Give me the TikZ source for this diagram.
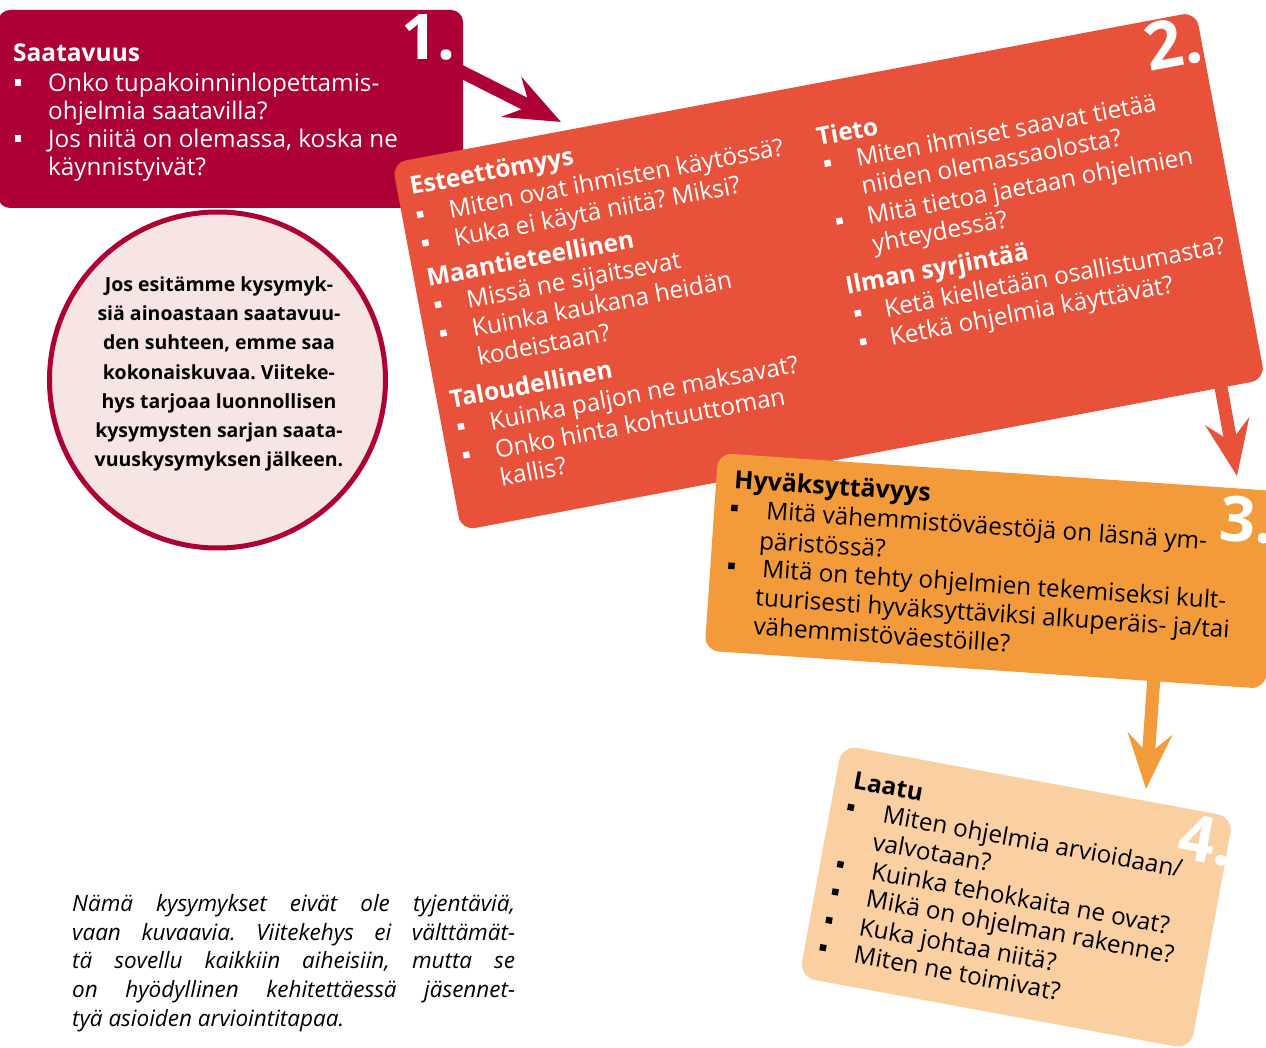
\documentclass[tikz,border=0pt]{standalone}
\usepackage{fontspec}
\setmainfont{Open Sans}
\usetikzlibrary{arrows.meta}
\definecolor{cA}{HTML}{AD0034}
\definecolor{cB}{HTML}{E8523B}
\definecolor{cC}{HTML}{F39A3B}
\definecolor{cD}{HTML}{FAD0A3}
\definecolor{cE}{HTML}{F7E5E4}
\newcommand\bsq[2]{\fill (#1-3.2,#2-12.5) rectangle ++(6.4,6.4);}
\frenchspacing
\begin{document}
\begin{tikzpicture}[x=1pt,y=-1pt,
  tl/.style={anchor=base west, inner sep=0pt, font=\fontsize{24.3}{28}\selectfont},
  hd/.style={anchor=base west, inner sep=0pt, font=\fontsize{24.5}{28}\selectfont\bfseries},
  num/.style={inner sep=0pt, text=white, font=\fontsize{63}{63}\selectfont\bfseries},
  boxshape/.style={rectangle, inner sep=0pt, outer sep=0pt, rounded corners=12pt},
  conn/.style={line width=13pt, -{Stealth[length=55pt,width=44pt,inset=20pt]}},
]
\useasboundingbox (0,0) rectangle (1266,1048);

% circle
\node[circle, draw=cA, line width=5pt, fill=cE, minimum size=336pt, inner sep=0pt] (circ) at (217.5,380) {};
\node[align=center, inner sep=0pt, font=\fontsize{19.5}{29.3}\selectfont\bfseries] (circt) at (219,374)
 {Jos esitämme kysymyk-\\siä ainoastaan saatavuu-\\den suhteen, emme saa\\kokonaiskuvaa. Viiteke-\\hys tarjoaa luonnollisen\\kysymysten sarjan saata-\\vuuskysymyksen jälkeen.};

% box 1
\node[boxshape, fill=cA, minimum width=465pt, minimum height=198pt, anchor=north west] (b1) at (-2,10) {};
\begin{scope}[every node/.append style={text=white}]
\node[hd] (b1h) at (13,62) {Saatavuus};
\node[tl] (b1a) at (48,92) {Onko tupakoinninlopettamis-};
\node[tl] (b1b) at (48,120) {ohjelmia saatavilla?};
\node[tl] (b1c) at (48,148) {Jos niitä on olemassa, koska ne};
\node[tl] (b1d) at (48,176) {käynnistyivät?};
\node[num, anchor=base east] (n1) at (456,60) {1.};
\end{scope}
\begin{scope}[white]
\bsq{18}{92}\bsq{18}{148}
\end{scope}

% arrow 1 -> 2
\coordinate (a1s) at ([shift={(-5,60)}]b1.north east);
\coordinate (a1e) at (561,122);
\draw[conn, cA] (a1s) -- (a1e);

% box 2
\node[boxshape, fill=cB, minimum width=818pt, minimum height=374pt, rotate=10.65, rounded corners=14pt] (b2) at (828.6,271.2) {};
\begin{scope}[shift={(b2.north west)}, rotate=10.65, every node/.append style={transform shape, text=white}]
\node[hd] (e0) at (13,35) {Esteettömyys};
\node[tl] (e1) at (47,65) {Miten ovat ihmisten käytössä?};
\node[tl] (e2) at (47,94) {Kuka ei käytä niitä? Miksi?};
\node[hd] (m0) at (13,128) {Maantieteellinen};
\node[tl] (m1) at (48,157) {Missä ne sijaitsevat};
\node[tl] (m2) at (48,186) {Kuinka kaukana heidän};
\node[tl] (m3) at (48,215) {kodeistaan?};
\node[hd] (t0) at (13,252) {Taloudellinen};
\node[tl] (t1) at (48,281) {Kuinka paljon ne maksavat?};
\node[tl] (t2) at (48,310) {Onko hinta kohtuuttoman};
\node[tl] (t3) at (48,338) {kallis?};
\node[hd] (i0) at (422,62) {Tieto};
\node[tl] (i1) at (457,90) {Miten ihmiset saavat tietää};
\node[tl] (i2) at (457,118) {niiden olemassaolosta?};
\node[tl] (i3) at (457,149) {Mitä tietoa jaetaan ohjelmien};
\node[tl] (i4) at (457,177) {yhteydessä?};
\node[hd] (s0) at (423,213) {Ilman syrjintää};
\node[tl] (s1) at (457,243) {Ketä kielletään osallistumasta?};
\node[tl] (s2) at (457,272) {Ketkä ohjelmia käyttävät?};
\node[num, anchor=base east, font=\fontsize{66}{66}\selectfont\bfseries] (n2) at (818,50) {2.};
\begin{scope}[white]
\bsq{18}{65}\bsq{18}{94}\bsq{19}{157}\bsq{19}{186}\bsq{19}{281}\bsq{19}{310}
\bsq{428}{90}\bsq{429}{149}\bsq{430}{243}\bsq{430}{272}
\end{scope}
\end{scope}

% arrow 2 -> 3
\coordinate (a2s) at (1219,376);
\coordinate (a2e) at (1237,476);
\draw[conn, cB] (a2s) -- (a2e);

% box 3
\node[boxshape, fill=cC, minimum width=562pt, minimum height=198pt, rotate=-3.9, rounded corners=14pt] (b3) at (991.7,570.9) {};
\begin{scope}[shift={(b3.north west)}, rotate=-3.9, every node/.append style={transform shape, text=black}]
\node[hd, font=\fontsize{25}{28}\selectfont\bfseries] (h0) at (18,34) {Hyväksyttävyys};
\node[tl] (h1) at (52,63) {Mitä vähemmistöväestöjä on läsnä ym-};
\node[tl] (h2) at (47,93) {päristössä?};
\node[tl] (h3) at (52,121) {Mitä on tehty ohjelmien tekemiseksi kult-};
\node[tl] (h4) at (47,150) {tuurisesti hyväksyttäviksi alkuperäis- ja/tai};
\node[tl] (h5) at (47,179) {vähemmistöväestöille?};
\node[num, anchor=base west] (n3) at (505,53) {3.};
\begin{scope}[black]
\bsq{20}{63}\bsq{21}{121}
\end{scope}
\end{scope}

% arrow 3 -> 4
\coordinate (a3s) at (1154,676);
\coordinate (a3e) at (1146,789);
\draw[conn, cC] (a3s) -- (a3e);

% box 4
\node[boxshape, fill=cD, minimum width=398pt, minimum height=236pt, rotate=-10.43, rounded corners=16pt] (b4) at (1016.3,897.1) {};
\begin{scope}[shift={(b4.north west)}, rotate=-10.43, every node/.append style={transform shape, text=black}]
\node[hd] (q0) at (18,41) {Laatu};
\node[tl] (q1) at (53,69) {Miten ohjelmia arvioidaan/};
\node[tl] (q2) at (48,98) {valvotaan?};
\node[tl] (q3) at (52,127) {Kuinka tehokkaita ne ovat?};
\node[tl] (q4) at (52,155) {Mikä on ohjelman rakenne?};
\node[tl] (q5) at (50,184) {Kuka johtaa niitä?};
\node[tl] (q6) at (50,212) {Miten ne toimivat?};
\node[num, anchor=base west, font=\fontsize{64}{64}\selectfont\bfseries] (n4) at (348,50) {4.};
\begin{scope}[black]
\bsq{20}{69}\bsq{20}{127}\bsq{20}{155}\bsq{19}{184}\bsq{18}{212}
\end{scope}
\end{scope}

% bottom paragraph
\node[anchor=north west, inner sep=0pt, text width=443pt, align=justify,
      font=\fontsize{22.5}{28.8}\selectfont\itshape] (para) at (72,894)
 {Nämä kysymykset eivät ole tyjentäviä,\linebreak vaan kuvaavia. Viitekehys ei välttämät-\linebreak tä sovellu kaikkiin aiheisiin, mutta se\linebreak on hyödyllinen kehitettäessä jäsennet-\linebreak tyä asioiden arviointitapaa.};
\end{tikzpicture}
\end{document}
